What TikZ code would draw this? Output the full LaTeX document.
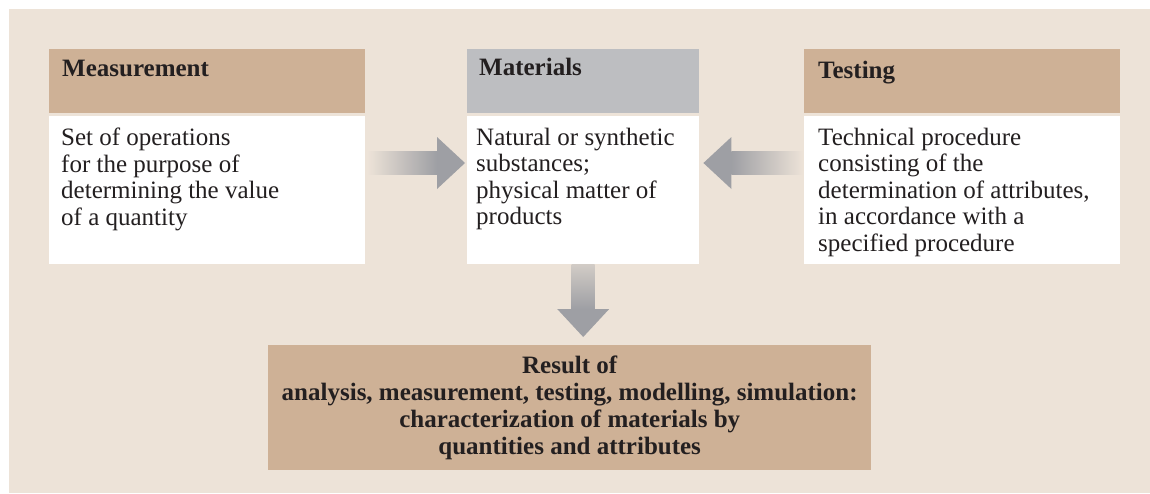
\documentclass[tikz,border=0pt]{standalone}
\usepackage{fontspec}
\setmainfont{Liberation Serif}
\usetikzlibrary{calc}

\definecolor{bgbeige}{RGB}{237,227,216}
\definecolor{tanfill}{RGB}{206,177,150}
\definecolor{headgray}{RGB}{189,190,193}
\definecolor{arrowgray}{RGB}{158,159,164}
\definecolor{inkc}{RGB}{35,31,32}

\tikzset{
  headbox/.style={anchor=north west, inner xsep=13pt, inner ysep=0pt,
    text width=290pt, align=left, text height=27pt, text depth=37pt,
    font=\fontsize{25}{26}\selectfont\bfseries, text=inkc},
  bodybox/.style={anchor=north west, fill=white, inner sep=0pt,
    minimum width=316pt, minimum height=148pt},
  bodytext/.style={anchor=north west, inner sep=0pt, align=left,
    font=\fontsize{25}{26.4}\selectfont, text=inkc},
  resultbox/.style={anchor=north west, fill=tanfill, inner sep=0pt,
    minimum width=603pt, minimum height=125pt, align=center,
    font=\fontsize{25}{26.8}\selectfont\bfseries, text=inkc},
}

\begin{document}
\begin{tikzpicture}[x=1pt,y=-1pt]
  \useasboundingbox (0,0) rectangle (1150,493);
  \fill[bgbeige] (9,9) rectangle (1150,493);

  % three definition columns
  \node[headbox, fill=tanfill] (mhead) at (49,49) {Measurement};
  \node[bodybox] (mbody) at (49,116) {};
  \node[bodytext] (mtext) at ($(mbody.north west)+(12,12)$)
    {Set of operations\\for the purpose of\\determining the value\\of a quantity};

  \node[headbox, fill=headgray, text width=208pt, inner xsep=12pt,
        text height=26pt, text depth=38pt] (mathead) at (467,49) {Materials};
  \node[bodybox, minimum width=232pt] (matbody) at (467,116) {};
  \node[bodytext] (mattext) at ($(matbody.north west)+(9,12)$)
    {Natural or synthetic\\substances;\\physical matter of\\products};

  \node[headbox, fill=tanfill, inner xsep=14pt, text width=288pt,
        text height=29pt, text depth=35pt] (thead) at (804,49) {Testing};
  \node[bodybox] (tbody) at (804,116) {};
  \node[bodytext] (ttext) at ($(tbody.north west)+(14,12)$)
    {Technical procedure\\consisting of the\\determination of attributes,\\in accordance with a\\specified procedure};

  % result box
  \node[resultbox] (result) at (268,345)
    {Result of\\analysis, measurement, testing, modelling, simulation:\\characterization of materials by\\quantities and attributes};

  % arrow from Measurement to Materials
  \coordinate (l1) at ($(mbody.north east)+(2,47)$);
  \coordinate (l2) at ($(matbody.north west)+(-2,47)$);
  \shade[left color=bgbeige, right color=arrowgray]
    ($(l1)+(0,-11.5)$) rectangle ($(l2)+(-28,11.5)$);
  \fill[arrowgray] ($(l2)+(-28,-26)$) -- (l2) -- ($(l2)+(-28,26)$) -- cycle;

  % arrow from Testing to Materials
  \coordinate (r1) at ($(tbody.north west)+(-1,47)$);
  \coordinate (r2) at ($(matbody.north east)+(4,47)$);
  \shade[left color=arrowgray, right color=bgbeige]
    ($(r2)+(28,-11.5)$) rectangle ($(r1)+(0,11.5)$);
  \fill[arrowgray] ($(r2)+(28,-26)$) -- (r2) -- ($(r2)+(28,26)$) -- cycle;

  % arrow from Materials down to the result
  \coordinate (d1) at (matbody.south);
  \coordinate (d2) at ($(matbody.south |- result.north)+(0,-8)$);
  \shade[top color=arrowgray!35!bgbeige, bottom color=arrowgray]
    ($(d1)+(-11.5,0)$) rectangle ($(d2)+(11.5,-28)$);
  \fill[arrowgray] ($(d2)+(-26,-28)$) -- (d2) -- ($(d2)+(26,-28)$) -- cycle;
\end{tikzpicture}
\end{document}
